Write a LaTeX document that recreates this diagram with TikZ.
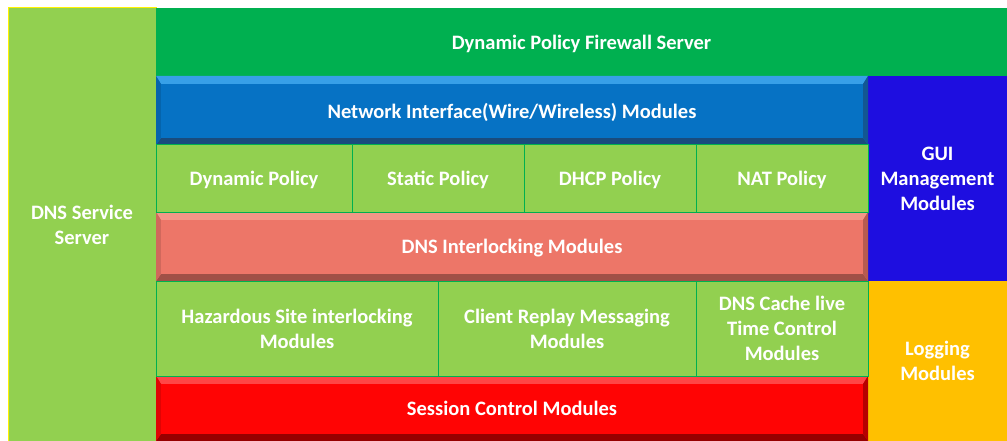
\documentclass[tikz,border=0pt]{standalone}
\usepackage{fontspec}
\setmainfont{Carlito}
\usepackage{xcolor}
\usepackage{tikz}
\usetikzlibrary{positioning}

\definecolor{fwgreen}{RGB}{0,176,80}
\definecolor{lgreen}{RGB}{146,208,80}
\definecolor{netblue}{RGB}{6,114,196}
\definecolor{netlight}{RGB}{55,160,232}
\definecolor{netdark}{RGB}{25,75,125}
\definecolor{guiblue}{RGB}{30,14,224}
\definecolor{salmon}{RGB}{237,118,104}
\definecolor{salmonlight}{RGB}{244,150,136}
\definecolor{salmondark}{RGB}{160,80,70}
\definecolor{sesred}{RGB}{255,4,4}
\definecolor{sesredlight}{RGB}{255,70,70}
\definecolor{sesreddark}{RGB}{150,0,0}
\definecolor{logorange}{RGB}{255,192,0}

\begin{document}
\begin{tikzpicture}[x=1pt,y=-1pt,
    every node/.style={anchor=north west,inner sep=0pt,outer sep=0pt,
      align=center,text=white,text depth=0pt,
      font=\fontsize{20.5}{25}\selectfont\bfseries},
    layer/.style={fill=#1},
    cell/.style={fill=lgreen,draw=fwgreen,line width=1pt},
    bar/.style n args={3}{fill=#1,path picture={
      \fill[#2] (path picture bounding box.north west)
        -- (path picture bounding box.north east)
        -- ([xshift=-5pt,yshift=-8pt]path picture bounding box.north east)
        -- ([xshift=5pt,yshift=-8pt]path picture bounding box.north west) -- cycle;
      \fill[#3] (path picture bounding box.south west)
        -- (path picture bounding box.south east)
        -- ([xshift=-5pt,yshift=7pt]path picture bounding box.south east)
        -- ([xshift=5pt,yshift=7pt]path picture bounding box.south west) -- cycle;
      \fill[#3!70!#1] (path picture bounding box.north east)
        -- (path picture bounding box.south east)
        -- ([xshift=-5pt,yshift=7pt]path picture bounding box.south east)
        -- ([xshift=-5pt,yshift=-8pt]path picture bounding box.north east) -- cycle;
      \fill[#1!88!black] (path picture bounding box.north west)
        -- (path picture bounding box.south west)
        -- ([xshift=5pt,yshift=7pt]path picture bounding box.south west)
        -- ([xshift=5pt,yshift=-8pt]path picture bounding box.north west) -- cycle;
      \fill[#1] ([xshift=5pt,yshift=-8pt]path picture bounding box.north west)
        rectangle ([xshift=-5pt,yshift=7pt]path picture bounding box.south east);}}]
  \useasboundingbox (0,0) rectangle (1007,441);
  % left column and top band
  \node[layer=lgreen,draw=yellow,line width=1pt,minimum width=148pt,minimum height=433pt]
    (dns) at (8,8) {DNS Service\\Server};
  \node[layer=fwgreen,minimum width=851pt,minimum height=68pt]
    (fw) at (156,8) {Dynamic Policy Firewall Server};
  % right column
  \node[layer=guiblue,minimum width=139pt,minimum height=205pt]
    (gui) at (868,76) {GUI\\Management\\Modules};
  \node[layer=logorange,minimum width=139pt,minimum height=160pt]
    (log) at (868,281) {Logging\\Modules};
  % bars
  \node[bar={netblue}{netlight}{netdark},minimum width=712pt,minimum height=69pt]
    (net) at (156,76) {Network Interface(Wire/Wireless) Modules};
  \node[bar={salmon}{salmonlight}{salmondark},minimum width=712pt,minimum height=69pt]
    (intl) at (156,212) {DNS Interlocking Modules};
  \node[bar={sesred}{sesredlight}{sesreddark},minimum width=712pt,minimum height=65pt]
    (ses) at (156,376) {Session Control Modules};
  % policy row
  \node[cell,minimum width=196pt,minimum height=67pt] (dyn) at (156,145) {Dynamic Policy};
  \node[cell,minimum width=172pt,minimum height=67pt] (stat) at (352,145) {Static Policy};
  \node[cell,minimum width=172pt,minimum height=67pt] (dhcp) at (524,145) {DHCP Policy};
  \node[cell,minimum width=172pt,minimum height=67pt] (nat) at (696,145) {NAT Policy};
  % module row
  \node[cell,minimum width=282pt,minimum height=95pt] (haz) at (156,281)
    {Hazardous Site interlocking\\Modules};
  \node[cell,minimum width=258pt,minimum height=95pt] (cli) at (438,281)
    {Client Replay Messaging\\Modules};
  \node[cell,minimum width=172pt,minimum height=95pt] (cache) at (696,281)
    {DNS Cache live\\Time Control\\Modules};
\end{tikzpicture}
\end{document}
